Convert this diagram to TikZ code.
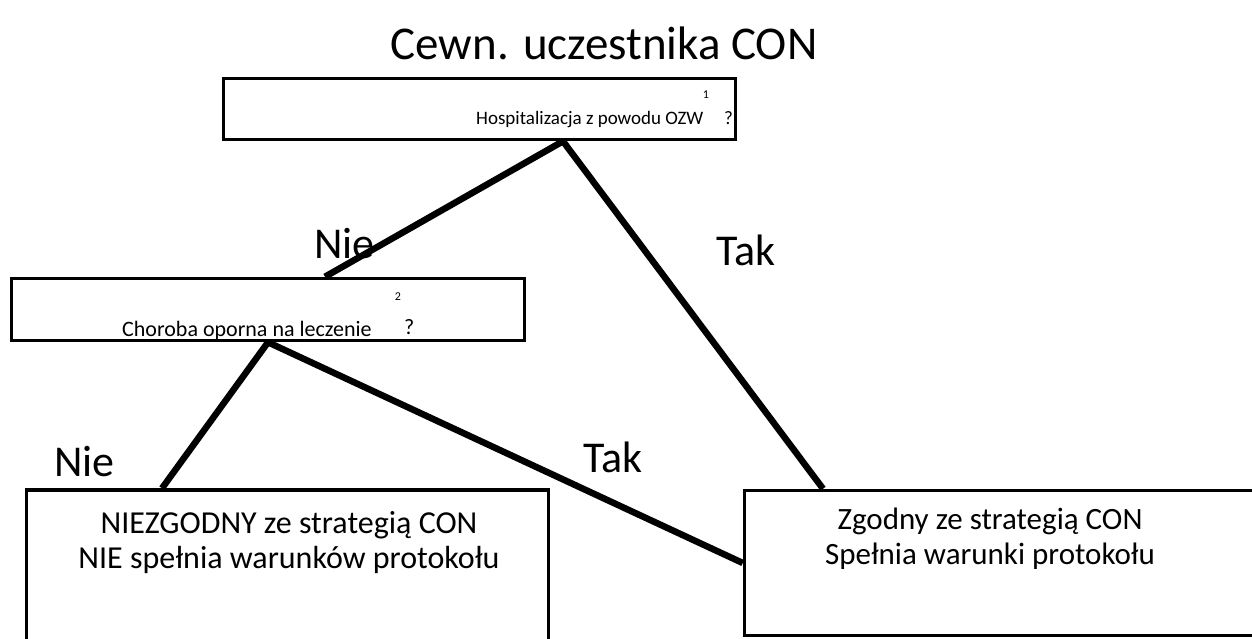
\documentclass[tikz,border=0pt]{standalone}
\usepackage{fontspec}
\setmainfont{Carlito}
\usetikzlibrary{positioning}
\begin{document}
\begin{tikzpicture}[
    x=1pt, y=-1pt,
    qbox/.style = {shape=rectangle, draw, line width=3.5pt, inner sep=0pt},
    resbox/.style = {shape=rectangle, draw, line width=3.5pt, inner sep=0pt},
    restext/.style = {align=center, inner sep=0pt, font=\fontsize{32}{35}\selectfont},
    answer/.style = {inner sep=0pt, font=\fontsize{44}{50}\selectfont},
    branch/.style = {line width=6.5pt}
  ]
\useasboundingbox (0,0) rectangle (1252,639);
\node[inner sep=0pt, anchor=base, font=\fontsize{47}{55}\selectfont] (title) at (604,60) {Cewn. uczestnika CON};
% questions
\node[qbox, minimum width=512pt, minimum height=61pt] (q1) at (479.5,109) {};
\node[anchor=base west, inner sep=0pt, font=\fontsize{19}{23}\selectfont] (q1txt) at (476,125) {Hospitalizacja z powodu OZW};
\node[inner sep=0pt, font=\fontsize{12}{14}\selectfont] (q1sup) at (706,95) {1};
\node[anchor=base west, inner sep=0pt, font=\fontsize{19}{23}\selectfont] (q1q) at (724,125) {?};
\node[qbox, minimum width=513pt, minimum height=62pt] (q2) at (268,309.5) {};
\begin{scope}
  \clip (q2.south west) rectangle (q2.north east);
  \node[anchor=base west, inner sep=0pt, font=\fontsize{22}{26}\selectfont] (q2txt) at (122,336) {Choroba oporna na leczenie};
\end{scope}
\node[inner sep=0pt, font=\fontsize{12}{14}\selectfont] (q2sup) at (398,297) {2};
\node[anchor=base west, inner sep=0pt, font=\fontsize{22}{26}\selectfont] (q2q) at (404,334) {?};
% results
\node[resbox, minimum width=522pt, minimum height=170pt] (r1) at (287.5,575) {};
\node[restext] (r1txt) at (289,543) {NIEZGODNY ze strategią CON\\NIE spełnia warunków protokołu};
\node[resbox, minimum width=555pt, minimum height=145pt] (r2) at (1022,563) {};
\node[restext, font=\fontsize{31}{35}\selectfont] (r2txt) at (990,539) {Zgodny ze strategią CON\\Spełnia warunki protokołu};
% branches
\draw[branch] ([xshift=83.5pt]q1.south) -- ([xshift=57pt]q2.north);
\draw[branch] ([xshift=83.5pt]q1.south) -- ([xshift=-199pt]r2.north);
\draw[branch] (q2.south) -- ([xshift=-125.5pt]r1.north);
\draw[branch] (q2.south) -- (r2.west);
\node[answer, anchor=base west] (nie1) at (314,258) {Nie};
\node[answer, anchor=base west] (tak1) at (716,265) {Tak};
\node[answer, anchor=base west] (nie2) at (54,476) {Nie};
\node[answer, anchor=base west] (tak2) at (583,472) {Tak};
\end{tikzpicture}
\end{document}
